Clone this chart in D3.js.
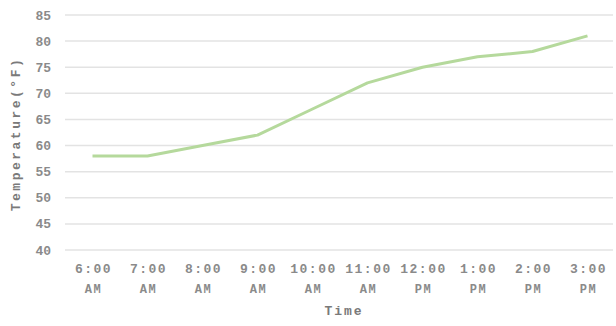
<!DOCTYPE html>
<html><head><meta charset="utf-8">
<script src="https://cdn.jsdelivr.net/npm/d3@7"></script>
<style>body{margin:0;background:#fff;} svg{display:block;}</style>
</head><body>
<script>
const times = ["6:00 AM","7:00 AM","8:00 AM","9:00 AM","10:00 AM","11:00 AM","12:00 PM","1:00 PM","2:00 PM","3:00 PM"];
const temps = [58,58,60,62,67,72,75,77,78,81];
const yTicks = [40,45,50,55,60,65,70,75,80,85];

const W=616,H=326;
const svg=d3.select("body").append("svg").attr("width",W).attr("height",H);
const font="'Liberation Mono','Courier New',monospace";
const x=d3.scaleBand().domain(times).range([65,615]);
const y=d3.scaleLinear().domain([40,85]).range([250,15]);

svg.append("g").selectAll("line").data(yTicks).join("line")
  .attr("x1",65).attr("x2",613).attr("y1",d=>y(d)).attr("y2",d=>y(d))
  .attr("stroke","#e3e3e3").attr("stroke-width",1.5);

svg.append("g").selectAll("text").data(yTicks).join("text")
  .attr("x",51).attr("y",d=>y(d)+4.5).attr("text-anchor","end")
  .attr("font-family",font).attr("font-size",13).attr("font-weight","bold").attr("fill","#8a8a8a").text(d=>d);

const xl=svg.append("g").selectAll("text").data(times).join("text")
  .attr("text-anchor","middle").attr("font-family",font).attr("font-size",13)
  .attr("letter-spacing",1.5).attr("font-weight","bold").attr("fill","#8a8a8a");
xl.append("tspan").attr("x",d=>x(d)+x.bandwidth()/2+1).attr("y",273).text(d=>d.split(" ")[0]);
xl.append("tspan").attr("x",d=>x(d)+x.bandwidth()/2+1).attr("y",293).attr("font-size",12).text(d=>d.split(" ")[1]);

const line=d3.line().x((d,i)=>x(times[i])+x.bandwidth()/2).y(d=>y(d));
svg.append("path").datum(temps).attr("d",line).attr("fill","none")
  .attr("stroke","#b5d99c").attr("stroke-width",3).attr("stroke-linejoin","round");

svg.append("text").attr("x",344).attr("y",315).attr("text-anchor","middle")
  .attr("font-family",font).attr("font-size",13).attr("letter-spacing",2)
  .attr("font-weight","bold").attr("fill","#7a7a7a").text("Time");
svg.append("text").attr("transform","translate(20,134) rotate(-90)").attr("text-anchor","middle")
  .attr("font-family",font).attr("font-size",13).attr("letter-spacing",2.5)
  .attr("font-weight","bold").attr("fill","#7a7a7a").text("Temperature(°F)");
</script>
</body></html>
